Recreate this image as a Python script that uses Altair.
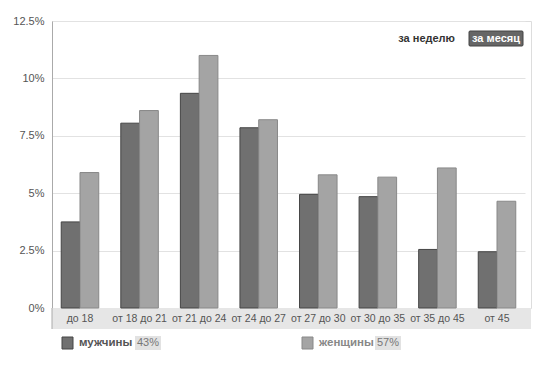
import altair as alt
import pandas as pd

ages = ["до 18", "от 18 до 21", "от 21 до 24", "от 24 до 27",
        "от 27 до 30", "от 30 до 35", "от 35 до 45", "от 45"]
men = [3.75, 8.05, 9.35, 7.85, 4.95, 4.85, 2.55, 2.45]
women = [5.9, 8.6, 11.0, 8.2, 5.8, 5.7, 6.1, 4.65]
series = ["мужчины", "женщины"]
shares = ["43%", "57%"]
buttons = ["за неделю", "за месяц"]

rows = []
for a, m, w in zip(ages, men, women):
    rows.append({"age": a, "sex": series[0], "v": m})
    rows.append({"age": a, "sex": series[1], "v": w})
df = pd.DataFrame(rows)
one = pd.DataFrame({"k": [0]})

W, H = 479, 287
FONT = "Liberation Sans"

band = alt.Chart(one).mark_rect(color="#e6e6e6").encode(
    x=alt.value(0), x2=alt.value(W), y=alt.value(H), y2=alt.value(H + 21))
band_edge = alt.Chart(one).mark_rule(color="#aaaaaa").encode(
    x=alt.value(0), y=alt.value(H), y2=alt.value(H + 21))

bars = alt.Chart(df).mark_bar(strokeWidth=1).encode(
    x=alt.X("age:N", sort=ages, title=None,
            scale=alt.Scale(paddingInner=0.37, paddingOuter=0.155, range=[0, 473]),
            axis=alt.Axis(labelAngle=0, domain=False, ticks=False, zindex=1,
                          labelPadding=5, labelFontSize=10.5,
                          labelColor="#555", labelFont=FONT)),
    xOffset=alt.XOffset("sex:N", sort=series, scale=alt.Scale(paddingInner=0)),
    y=alt.Y("v:Q", title=None,
            scale=alt.Scale(domain=[0, 12.5], nice=False),
            axis=alt.Axis(values=[0, 2.5, 5, 7.5, 10, 12.5],
                          labelExpr="datum.value + '%'",
                          domain=True, domainColor="#aaaaaa", ticks=False,
                          gridColor="#e2e2e2", labelPadding=8,
                          labelFontSize=11, labelColor="#555", labelFont=FONT)),
    color=alt.Color("sex:N", sort=series, legend=None,
                    scale=alt.Scale(domain=series, range=["#707070", "#a4a4a4"])),
    stroke=alt.Stroke("sex:N", sort=series, legend=None,
                      scale=alt.Scale(domain=series, range=["#454545", "#888888"])),
)

btn1 = alt.Chart(one).mark_text(align="right", baseline="middle", fontWeight="bold",
                                fontSize=11, font=FONT, color="#333").encode(
    x=alt.value(403), y=alt.value(17.5), text=alt.value(buttons[0]))
btn2_box = alt.Chart(one).mark_rect(color="#666666", cornerRadius=1,
                                    stroke="#444", strokeWidth=1).encode(
    x=alt.value(417), x2=alt.value(471), y=alt.value(10), y2=alt.value(25))
btn2 = alt.Chart(one).mark_text(align="center", baseline="middle", fontWeight="bold",
                                fontSize=11, font=FONT, color="white").encode(
    x=alt.value(444), y=alt.value(17.5), text=alt.value(buttons[1]))

leg = []
for i, (name, sh, col, sc, tc, x0) in enumerate([
        (series[0], shares[0], "#707070", "#454545", "#555555", 10),
        (series[1], shares[1], "#a4a4a4", "#888888", "#888888", 250)]):
    leg.append(alt.Chart(one).mark_rect(color=col, stroke=sc, strokeWidth=1).encode(
        x=alt.value(x0), x2=alt.value(x0 + 11), y=alt.value(316), y2=alt.value(328)))
    leg.append(alt.Chart(one).mark_text(align="left", baseline="middle", fontWeight="bold",
                                        fontSize=11.5, font=FONT, color=tc).encode(
        x=alt.value(x0 + 17), y=alt.value(322), text=alt.value(name)))
    leg.append(alt.Chart(one).mark_rect(color="#e2e2e2").encode(
        x=alt.value(x0 + 73), x2=alt.value(x0 + 99), y=alt.value(315), y2=alt.value(329)))
    leg.append(alt.Chart(one).mark_text(align="center", baseline="middle",
                                        fontSize=11, font=FONT, color="#777").encode(
        x=alt.value(x0 + 86), y=alt.value(322), text=alt.value(sh)))

chart = alt.layer(band, band_edge, bars, btn2_box, btn1, btn2, *leg).properties(
    width=W, height=H,
    autosize=alt.AutoSizeParams(type="none"),
    padding={"left": 44, "top": 13, "right": 10, "bottom": 48},
).configure_view(fill="#f8f8f8", stroke=None).configure(background="white")

chart.save("out.html", embed_options={"renderer": "svg", "actions": False})
